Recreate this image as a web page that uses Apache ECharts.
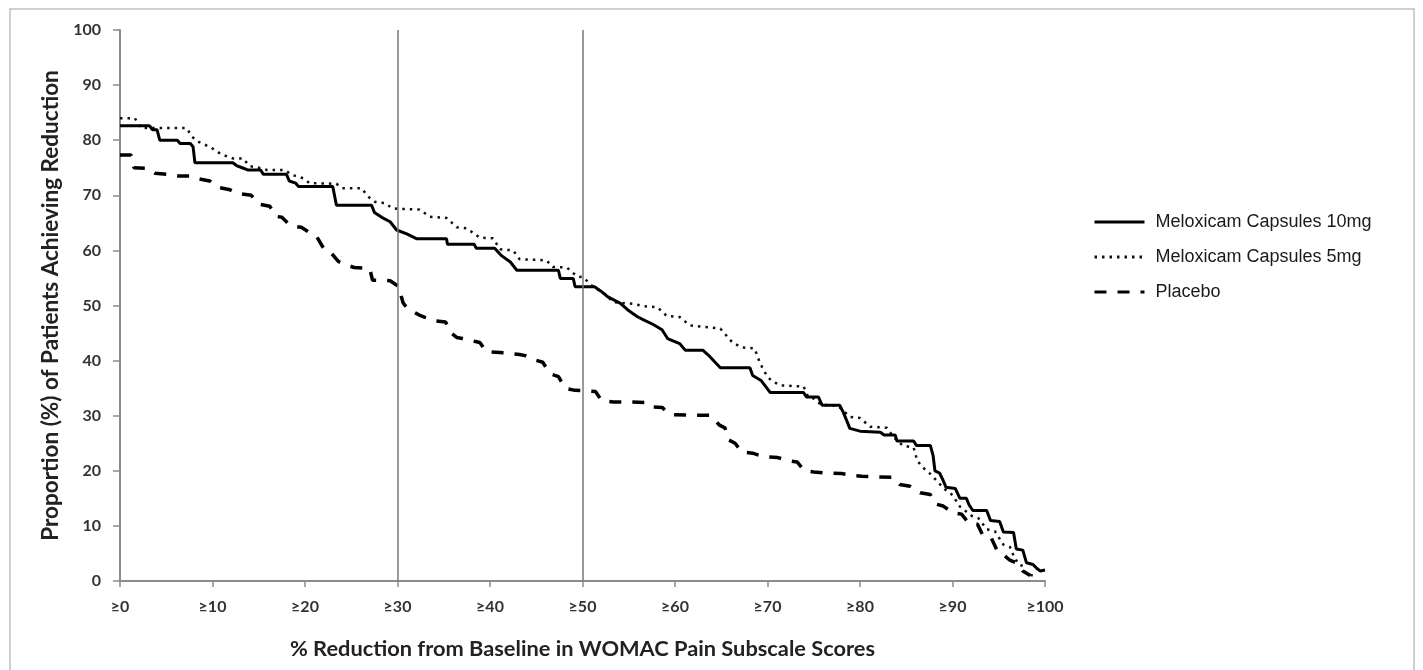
<!DOCTYPE html>
<html>
<head>
<meta charset="utf-8">
<script src="https://cdn.jsdelivr.net/npm/echarts@6/dist/echarts.min.js"></script>
<style>
html,body{margin:0;padding:0;background:#fff;}
#chart{width:1423px;height:670px;}
</style>
</head>
<body>
<div id="chart"></div>
<script>
// ---- Data ----
const seriesNames = ['Meloxicam Capsules 10mg', 'Meloxicam Capsules 5mg', 'Placebo'];
const xTicks = [0, 10, 20, 30, 40, 50, 60, 70, 80, 90, 100];
const yTicks = [0, 10, 20, 30, 40, 50, 60, 70, 80, 90, 100];
const refLines = [30, 50];
const xTitle = '% Reduction from Baseline in WOMAC Pain Subscale Scores';
const yTitle = 'Proportion (%) of Patients Achieving Reduction';

const tenMgX = [0, 3.2, 3.5, 4.0, 4.3, 6.2, 6.5, 7.6, 7.9, 8.1, 12.2, 12.6, 13.2, 13.8, 15.2, 15.5, 18.0, 18.3, 19.0, 19.3, 23.0, 23.4, 27.2, 27.5, 28.3, 29.2, 29.9, 31.0, 32.1, 35.3, 35.4, 38.3, 38.5, 40.5, 41.2, 42.2, 42.9, 47.4, 47.6, 49.0, 49.2, 51.3, 52.0, 52.7, 54.1, 54.9, 55.9, 56.6, 57.6, 58.6, 59.2, 60.5, 61.1, 63.0, 63.6, 64.9, 68.1, 68.4, 69.3, 70.3, 73.9, 74.2, 75.5, 75.9, 77.8, 78.2, 78.9, 80.0, 82.2, 82.6, 83.8, 84.0, 85.8, 86.1, 87.6, 87.9, 88.1, 88.6, 89.0, 89.3, 90.3, 90.8, 91.5, 91.8, 92.2, 93.7, 94.1, 95.1, 95.5, 96.6, 96.9, 97.6, 98.0, 98.7, 99.1, 99.5, 100];
const tenMgY = [82.6, 82.6, 81.9, 81.9, 80.0, 80.0, 79.4, 79.4, 78.8, 75.9, 75.9, 75.4, 75.0, 74.6, 74.6, 73.8, 73.8, 72.6, 72.2, 71.6, 71.6, 68.2, 68.2, 66.9, 66.0, 65.2, 63.7, 63.0, 62.1, 62.1, 61.1, 61.1, 60.4, 60.4, 59.1, 57.9, 56.4, 56.4, 54.9, 54.9, 53.4, 53.4, 52.6, 51.6, 50.4, 49.2, 48.0, 47.4, 46.6, 45.6, 44.0, 43.1, 41.9, 41.9, 41.0, 38.7, 38.7, 37.3, 36.4, 34.2, 34.2, 33.4, 33.4, 31.9, 31.9, 30.6, 27.7, 27.2, 27.0, 26.5, 26.5, 25.4, 25.4, 24.6, 24.6, 22.8, 20.0, 19.6, 18.2, 17.0, 16.8, 15.0, 15.0, 13.8, 12.8, 12.8, 11.0, 10.8, 8.9, 8.8, 5.8, 5.6, 3.3, 3.0, 2.3, 1.8, 2.0];

const fiveMgX = [0, 1.6, 2.3, 7.2, 7.8, 8.5, 9.8, 11.0, 12.2, 13.3, 14.0, 15.0, 15.9, 17.8, 18.6, 19.8, 20.5, 23.4, 24.0, 26.1, 26.8, 27.6, 28.6, 29.5, 32.4, 33.5, 35.3, 36.4, 37.5, 38.9, 40.3, 41.1, 42.5, 43.2, 46.1, 46.8, 48.3, 49.4, 50.1, 51.0, 52.5, 53.3, 55.5, 56.5, 58.1, 59.1, 60.5, 61.6, 62.7, 64.9, 66.2, 67.2, 68.6, 69.2, 70.0, 70.6, 71.4, 73.9, 74.4, 74.9, 75.8, 77.6, 78.9, 80.0, 81.1, 82.9, 83.6, 84.6, 85.8, 86.2, 86.8, 87.5, 88.4, 89.2, 90.0, 90.8, 92.1, 92.8, 93.7, 94.6, 95.5, 96.2, 96.8, 97.3, 97.8, 98.2, 99.2];
const fiveMgY = [84.0, 84.0, 82.2, 82.2, 80.6, 79.7, 78.7, 77.4, 76.7, 76.7, 75.3, 75.0, 74.6, 74.6, 73.7, 73.1, 72.2, 72.1, 71.3, 71.3, 69.8, 68.8, 68.6, 67.6, 67.4, 66.1, 65.9, 64.2, 64.0, 62.3, 62.2, 60.2, 60.0, 58.4, 58.2, 57.0, 56.9, 55.3, 55.1, 53.6, 52.0, 50.6, 50.3, 49.9, 49.7, 48.1, 47.9, 46.4, 46.2, 45.8, 43.3, 42.4, 42.2, 39.5, 37.0, 36.2, 35.5, 35.3, 33.4, 33.2, 32.0, 31.8, 29.8, 29.6, 28.0, 27.8, 26.2, 24.6, 24.2, 21.8, 20.6, 19.6, 18.0, 16.6, 15.6, 13.5, 11.8, 11.4, 9.4, 9.0, 6.6, 6.2, 3.8, 3.4, 1.6, 1.2, 0.8];

const placeboX = [0, 1.2, 1.5, 3.0, 3.8, 5.0, 6.3, 7.8, 8.5, 9.7, 10.5, 11.9, 12.8, 14.2, 15.0, 16.2, 16.8, 17.5, 18.4, 19.6, 21.3, 22.0, 22.6, 23.6, 24.1, 25.3, 27.0, 27.3, 29.2, 29.8, 30.1, 30.6, 31.0, 32.3, 32.9, 34.2, 35.2, 35.8, 36.4, 37.0, 38.3, 38.9, 39.6, 41.6, 43.2, 43.8, 44.7, 45.7, 46.5, 47.4, 48.1, 49.2, 50.6, 51.4, 52.1, 53.3, 55.1, 57.0, 57.6, 58.6, 59.5, 61.6, 63.8, 64.8, 65.4, 65.8, 66.5, 67.2, 68.4, 69.5, 71.1, 72.4, 73.2, 74.0, 75.0, 76.4, 78.0, 79.6, 80.2, 82.0, 83.6, 84.3, 85.4, 86.5, 87.6, 88.1, 89.0, 90.0, 91.0, 91.7, 92.7, 93.3, 94.2, 94.8, 95.3, 96.2, 97.0, 97.6, 98.4];
const placeboY = [77.3, 77.3, 75.0, 74.9, 74.0, 73.8, 73.5, 73.5, 73.0, 72.6, 71.5, 71.0, 70.3, 70.0, 68.4, 68.0, 66.2, 66.0, 64.5, 64.2, 62.4, 60.4, 60.0, 58.0, 57.6, 56.9, 56.7, 54.6, 54.5, 53.8, 53.5, 50.5, 49.6, 48.3, 47.9, 47.2, 47.0, 45.0, 44.2, 44.0, 43.5, 43.3, 41.6, 41.4, 41.1, 40.9, 40.2, 39.7, 37.6, 37.1, 35.0, 34.6, 34.5, 34.4, 32.7, 32.5, 32.5, 32.4, 31.6, 31.5, 30.2, 30.1, 30.1, 28.3, 27.8, 25.6, 25.0, 23.4, 23.2, 22.6, 22.4, 21.8, 21.6, 20.0, 19.8, 19.6, 19.5, 19.1, 19.0, 18.9, 18.8, 17.5, 17.2, 16.0, 15.7, 14.0, 13.6, 12.4, 12.1, 10.6, 10.3, 8.2, 7.8, 5.6, 5.0, 3.8, 3.2, 1.8, 1.0];

function zip(xs, ys) { return xs.map((x, i) => [x, ys[i]]); }

// size a font so that a text spans a wanted width (widths)
const measureCtx = document.createElement('canvas').getContext('2d');
function fitSize(text, family, weight, wantWidth) {
  measureCtx.font = weight + ' 20px ' + family;
  const w = measureCtx.measureText(text).width;
  return Math.round(20 * wantWidth / w * 10) / 10;
}
const yTitleSize = fitSize(yTitle, 'Lato', 'bold', 470);
const xTitleSize = fitSize(xTitle, 'Lato', 'bold', 585);
const legendSize = fitSize(seriesNames[1], '"Liberation Sans"', 'normal', 206);

const chart = echarts.init(document.getElementById('chart'), null, {renderer: 'canvas'});
const tickFont = {fontFamily: 'Lato', fontWeight: 'bold', fontSize: 16, color: '#333'};

const option = {
  backgroundColor: '#fff',
  animation: false,
  graphic: [{
    type: 'rect', silent: true, z: -10,
    shape: {x: 10, y: 9, width: 1404, height: 720},
    style: {fill: 'none', stroke: '#cfcfcf', lineWidth: 2}
  }],
  grid: {left: 120, right: 378, top: 30, bottom: 89, containLabel: false},
  legend: {
    orient: 'vertical', left: 1088, top: 207,
    itemWidth: 50, itemHeight: 14, itemGap: 15,
    data: seriesNames,
    itemStyle: {opacity: 0},
    lineStyle: {width: 3},
    textStyle: {fontFamily: 'Liberation Sans', fontSize: legendSize, lineHeight: 20, color: '#1a1a1a', padding: [0, 0, 0, 6]}
  },
  xAxis: {
    type: 'value', min: xTicks[0], max: xTicks[xTicks.length - 1], interval: 10,
    name: xTitle,
    nameLocation: 'middle', nameGap: 57,
    nameTextStyle: {fontFamily: 'Lato', fontWeight: 'bold', fontSize: xTitleSize, color: '#222'},
    axisLine: {show: true, lineStyle: {color: '#8c8c8c', width: 2}},
    axisTick: {show: true, length: 6, lineStyle: {color: '#8c8c8c', width: 1.5}},
    axisLabel: Object.assign({margin: 18, formatter: v => '≥' + v}, tickFont),
    splitLine: {show: false}
  },
  yAxis: {
    type: 'value', min: yTicks[0], max: yTicks[yTicks.length - 1], interval: 10,
    name: yTitle,
    nameLocation: 'middle', nameGap: 58,
    nameTextStyle: {fontFamily: 'Lato', fontWeight: 'bold', fontSize: yTitleSize, color: '#222'},
    axisLine: {show: true, lineStyle: {color: '#8c8c8c', width: 2}},
    axisTick: {show: true, length: 7, lineStyle: {color: '#8c8c8c', width: 1.5}},
    axisLabel: Object.assign({margin: 19}, tickFont),
    splitLine: {show: false}
  },
  series: [
    {
      name: seriesNames[0], type: 'line', data: zip(tenMgX, tenMgY),
      showSymbol: false, symbol: 'none', z: 4,
      lineStyle: {color: '#000', width: 3, type: 'solid'},
      itemStyle: {color: '#000'},
      markLine: {
        silent: true, symbol: 'none', label: {show: false},
        lineStyle: {color: '#777', width: 1.5, type: 'solid'},
        data: refLines.map(v => ({xAxis: v}))
      }
    },
    {
      name: seriesNames[1], type: 'line', data: zip(fiveMgX, fiveMgY),
      showSymbol: false, symbol: 'none', z: 3,
      lineStyle: {color: '#111', width: 2.5, type: [2.5, 5]},
      itemStyle: {color: '#111'}
    },
    {
      name: seriesNames[2], type: 'line', data: zip(placeboX, placeboY),
      showSymbol: false, symbol: 'none', z: 3,
      lineStyle: {color: '#000', width: 3.5, type: [12, 11]},
      itemStyle: {color: '#000'}
    }
  ]
};
chart.setOption(option);
</script>
</body>
</html>
